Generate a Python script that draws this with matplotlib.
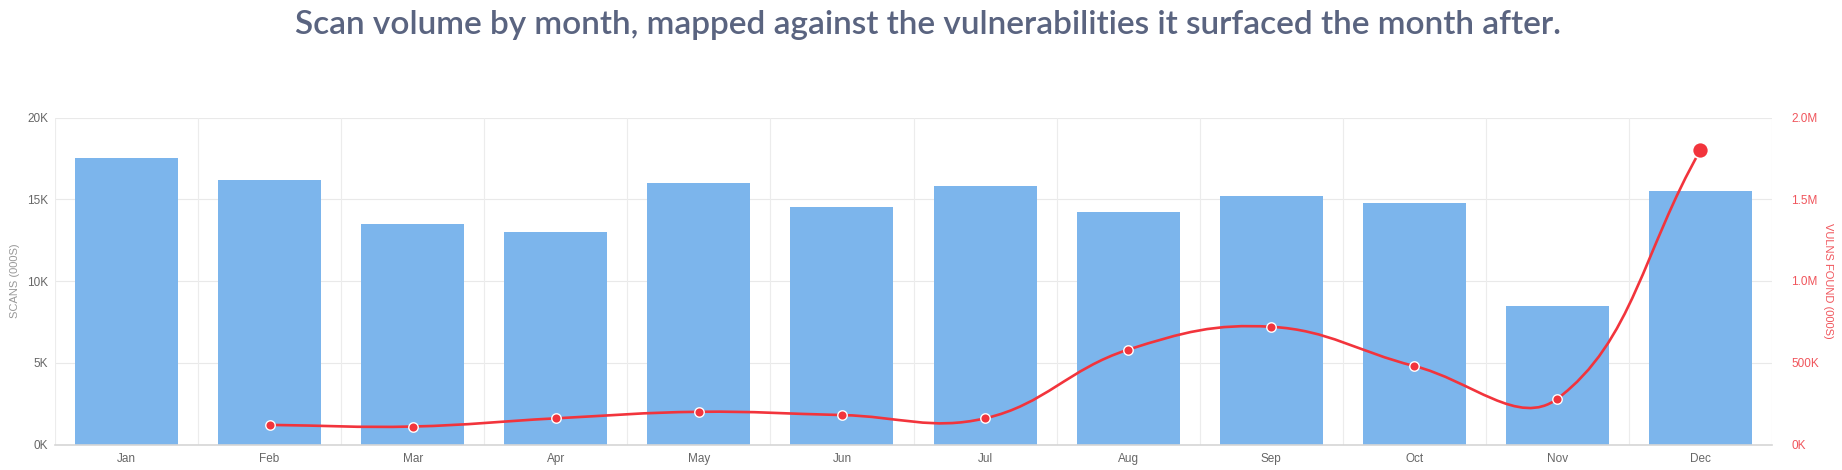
import numpy as np
import matplotlib
matplotlib.use("Agg")
import matplotlib.pyplot as plt
from matplotlib.path import Path
from matplotlib.patches import PathPatch

months = ["Jan", "Feb", "Mar", "Apr", "May", "Jun", "Jul", "Aug", "Sep", "Oct", "Nov", "Dec"]
scans_k = [17.5, 16.2, 13.5, 13.0, 16.0, 14.5, 15.8, 14.2, 15.2, 14.8, 8.5, 15.5]
vulns = [None, 120e3, 110e3, 160e3, 200e3, 180e3, 160e3, 580e3, 720e3, 480e3, 280e3, 1.80e6]
left_ticks = [0, 5, 10, 15, 20]
left_labels = ["0K", "5K", "10K", "15K", "20K"]
right_ticks = [0, 0.5e6, 1.0e6, 1.5e6, 2.0e6]
right_labels = ["0K", "500K", "1.0M", "1.5M", "2.0M"]
title = "Scan volume by month, mapped against the vulnerabilities it surfaced the month after."

W, H = 1842, 470
fig = plt.figure(figsize=(W / 100, H / 100), dpi=100)
L, R, T, B = 55, 1772, 117.5, 444.5
ax = fig.add_axes([L / W, 1 - B / H, (R - L) / W, (B - T) / H])
ax2 = ax.twinx()

tick_font = ["Liberation Sans Narrow", "Liberation Sans", "DejaVu Sans"]
x = np.arange(len(months))

ax.set_xlim(-0.5, len(months) - 0.5)
ax.set_ylim(0, 20)
ax2.set_ylim(0, 2.0e6)

# grid
for v in left_ticks[1:]:
    ax.axhline(v, color="#e9e9e9", lw=0.8, zorder=0)
for k in range(len(months) + 1):
    ax.axvline(k - 0.5, color="#ececec", lw=0.8, zorder=0)

ax.bar(x, scans_k, width=0.72, color="#7cb5ec", zorder=2)

for s in ["top", "right", "left"]:
    ax.spines[s].set_visible(False)
    ax2.spines[s].set_visible(False)
ax.spines["bottom"].set_color("#d6d6d6")
ax.spines["bottom"].set_linewidth(1.2)
ax2.spines["bottom"].set_visible(False)

ax.set_xticks(x)
ax.set_xticklabels(months, family=tick_font, fontsize=8.5, color="#666666")
ax.tick_params(axis="x", length=0, pad=6)
ax.set_yticks(left_ticks)
ax.set_yticklabels(left_labels, family=tick_font, fontsize=8.5, color="#666666")
ax.tick_params(axis="y", length=0, pad=5)
ax.set_ylabel("SCANS (000S)", family=tick_font, fontsize=8, color="#999999", labelpad=5)

ax2.set_yticks(right_ticks)
ax2.set_yticklabels(right_labels, family=tick_font, fontsize=8.5, color="#f0555c")
ax2.tick_params(axis="y", length=0, pad=14)
ax2.set_ylabel("VULNS FOUND (000S)", family=tick_font, fontsize=8, color="#f0555c",
               rotation=270, labelpad=10)

# spline through the line points (Chart.js-like cubic interpolation in pixel space)
idx = [i for i, v in enumerate(vulns) if v is not None]
pts = ax2.transData.transform(np.array([[x[i], vulns[i]] for i in idx], dtype=float))
t = 0.4
n = len(pts)
prev_c = np.zeros_like(pts)
next_c = np.zeros_like(pts)
for i in range(n):
    cur = pts[i]
    p = pts[i - 1] if i > 0 else cur
    nx = pts[i + 1] if i < n - 1 else cur
    d01 = np.hypot(*(cur - p))
    d12 = np.hypot(*(nx - cur))
    tot = d01 + d12
    s01 = d01 / tot if tot else 0
    s12 = d12 / tot if tot else 0
    prev_c[i] = cur - t * s01 * (nx - p)
    next_c[i] = cur + t * s12 * (nx - p)
verts = [pts[0]]
codes = [Path.MOVETO]
for i in range(1, n):
    verts += [next_c[i - 1], prev_c[i], pts[i]]
    codes += [Path.CURVE4] * 3
dverts = ax2.transData.inverted().transform(np.array(verts))
path = Path(dverts, codes)
ax2.add_patch(PathPatch(path, facecolor="none", edgecolor="#f2343c", lw=1.9, zorder=5))

xs = [x[i] for i in idx]
ys = [vulns[i] for i in idx]
ax2.plot(xs[:-1], ys[:-1], linestyle="none", marker="o", markersize=6.8,
         markerfacecolor="#f2343c", markeredgecolor="white", markeredgewidth=1.0, zorder=6)
ax2.plot(xs[-1:], ys[-1:], linestyle="none", marker="o", markersize=11.5,
         markerfacecolor="#f2343c", markeredgecolor="white", markeredgewidth=1.2, zorder=6)

fig.text(928 / W, 1 - 25 / H, title, ha="center", va="center",
         family=["Lato", "DejaVu Sans"], fontsize=24, fontweight="semibold", color="#5a6480")

fig.savefig("out.png", dpi=100, facecolor="white")
